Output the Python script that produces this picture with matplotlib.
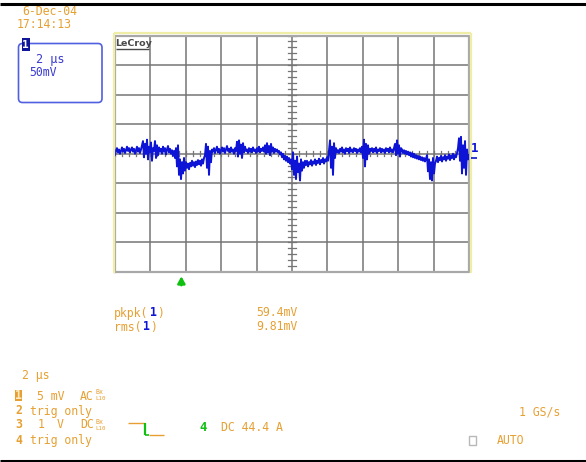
import numpy as np
import matplotlib
matplotlib.use("Agg")
import matplotlib.pyplot as plt
from matplotlib.patches import FancyBboxPatch, Rectangle
from matplotlib.lines import Line2D

# ---------------- data ----------------
date_text = "6-Dec-04"
time_text = "17:14:13"
timebase_label = "2 µs"
zoom_label = "50mV"
meas_names = ["pkpk", "rms"]
meas_values = ["59.4mV", "9.81mV"]
sample_rate = "1 GS/s"
trigger_mode = "AUTO"
trigger_info = "DC 44.4 A"

n_xdiv, n_ydiv = 10, 8
us_per_div = 2.0
mv_per_div = 42.0

# trace (mV)
trace_mv = [
    -2, 5, 8, 2, 6, 0, 4, 9, 3, 7, 1, 5, 10, 4, 8, 2, 6, 9, 3, 7, 0, 5, 10, 3, 8, 1, 6, 12,
    18, -5, 14, 0, 20, -8, 10, 2, 16, -10, 8, 4, 18, -6, 12, -2, 9, 3,
    7, 0, 10, 3, 8, -1, 6, 11, 2, 7, 0, 5, -3, 4,
    -6, 8, -18, 12, -30, -8, -36, -12, -28, -6, -24,
    -12, -20, -14, -22, -13, -18, -10, -17, -12, -19, -11, -16, -9, -15, -10, -17, -8, -14, -6,
    -2, 14, -20, 10, -30, 4, -12, 6,
    3, 8, 1, 6, 10, 2, 7, 0, 5, 9, 3, 8, 1, 6, 11, 4, 7, 2, 9, 3, 6, 0, 8, 4,
    17, -4, 19, 0, 13, -6, 15, 2, 10, 4,
    6, 1, 8, 3, 7, 2, 9, 4, 6, 1, 8, 3, 10, 2, 7, 4, 9, 3,
    12, 0, 15, 2, 11, -2, 14, 3, 9, 1, 7, 3, 6, 2,
    4, -1, 2, -5, 0, -8, -3, -10, -4, -12, -6, -14,
    -8, -22, 2, -30, -10, -36, -4, -26, -14, -38, -8, -24, -12, -20, -10,
    -16, -10, -18, -12, -15, -9, -17, -11, -14, -8, -16, -10, -13, -7, -15, -9, -12, -6, -14, -8, -11, -5, -10,
    4, 19, -20, 10, -30, 15, -6, 8, 2,
    5, 1, 7, 3, 9, 2, 6, 0, 8, 4, 7, 1, 9, 3, 6, 2, 8, 4, 7, 1, 6, 3, 8, 2,
    10, -6, 20, -18, 14, -8, 12, 0, 7,
    4, 8, 2, 7, 3, 9, 1, 6, 4, 8, 2, 7, 3, 6, 1, 8, 4, 7, 2, 9, 3, 6, 2, 8,
    14, -2, 19, 0, 12, -4, 8,
    6, 1, 5, 0, 4, -1, 3, -2, 2, -4, 1, -5, 0, -6, -2, -7, -3, -8, -4, -9, -5, -10, -6, -11, -7,
    -2, -25, -8, -36, -12, -38, -6, -28, -14,
    -10, -4, -12, -6, -9, -3, -11, -5, -8, -2, -10, -4, -7, -1, -9, -3, -6, 0, -8, -2, -5, 1,
    8, 22, -10, 24, -28, 12, -20, 18, -30, 6, -8, -2,
]
trigger_time_us = 3.75

# ---------------- styling ----------------
W, H = 586, 462
ORANGE = "#E6A032"
BLUE = "#0E14D6"
BOXBLUE = "#5060E0"
TXTBLUE = "#3A3AD0"
GREEN = "#10C010"
GRID = "#757575"
EDGE = "#A8A8A8"
YEL = "#EFEDA6"
MONO = "DejaVu Sans Mono"
FS = 8.3

fig = plt.figure(figsize=(W / 100, H / 100), dpi=100)
fig.patch.set_facecolor("white")


def fx(x):
    return x / W


def fy(y):
    return 1 - y / H


def txt(x, y, s, color=ORANGE, size=FS, ha="left", weight="normal", family=MONO):
    fig.text(fx(x), fy(y), s, color=color, fontsize=size, ha=ha, va="center",
             family=family, fontweight=weight)


def fline(xs, ys, color, lw=1.0):
    fig.add_artist(Line2D([fx(v) for v in xs], [fy(v) for v in ys], color=color, lw=lw,
                          transform=fig.transFigure, solid_capstyle="butt"))


# black frame lines
fline([0, W], [3.5, 3.5], "black", 2.2)
fline([0, W], [460.5, 460.5], "black", 2.2)

# ---------------- grid axes ----------------
L, R, T, B = 115, 469, 35.5, 272
ax = fig.add_axes([fx(L), fy(B), (R - L) / W, (B - T) / H])
ax.set_xlim(0, n_xdiv * us_per_div)
ymax = n_ydiv / 2 * mv_per_div
ax.set_ylim(-ymax, ymax)
ax.axis("off")

for k in range(1, n_xdiv):
    ax.axvline(k * us_per_div, color=GRID, lw=1.1, zorder=1)
for k in range(1, n_ydiv):
    ax.axhline(-ymax + k * mv_per_div, color=GRID, lw=1.1, zorder=1)

# centre cross minor ticks
xc = n_xdiv / 2 * us_per_div
for k in range(n_ydiv * 5 + 1):
    yv = -ymax + k * mv_per_div / 5
    ax.plot([xc - 0.2, xc + 0.2], [yv, yv], color=GRID, lw=0.9, zorder=1)
for k in range(n_xdiv * 5 + 1):
    xv = k * us_per_div / 5
    ax.plot([xv, xv], [-mv_per_div * 0.09, mv_per_div * 0.09], color=GRID, lw=0.9, zorder=1)

# border
ax.plot([0, 20, 20, 0, 0], [-ymax, -ymax, ymax, ymax, -ymax], color=EDGE, lw=1.6,
        clip_on=False, zorder=2)

# trace
t = np.linspace(0, n_xdiv * us_per_div, len(trace_mv))
ax.plot(t, trace_mv, color=BLUE, lw=1.4, zorder=5)

# yellow outer lines
fline([114.3, 114.3], [33, 273], YEL, 1.6)
fline([114.3, 470.6], [33, 33], YEL, 1.6)
fline([470.6, 470.6], [33, 273], YEL, 1.6)

# LeCroy logo
fig.text(fx(115.5), fy(44), "LeCroy", color="#484848", fontsize=6.8, fontweight="bold",
         family="DejaVu Sans", va="center", ha="left")
fline([115.5, 149], [49.2, 49.2], "#484848", 1.0)

# trace marker on the right
txt(471, 148, "1", color=BLUE, size=9, weight="bold")
fline([470.5, 477], [158, 158], BLUE, 1.2)

# trigger arrow
trig_x = L + trigger_time_us / (n_xdiv * us_per_div) * (R - L)
fig.add_artist(matplotlib.patches.FancyArrowPatch(
    (fx(trig_x), fy(288)), (fx(trig_x), fy(273.5)), transform=fig.transFigure,
    arrowstyle="-|>,head_width=2.2,head_length=4", color=GREEN, lw=1.8, mutation_scale=1))

# date / time
txt(22, 11.5, date_text)
txt(17, 25, time_text)

# channel box
fig.add_artist(FancyBboxPatch((18.5 / 100, (H - 102.5) / 100), 83.5 / 100, 59 / 100,
                              boxstyle="round,pad=0,rounding_size=0.04",
                              transform=fig.dpi_scale_trans, fc="none", ec=BOXBLUE, lw=1.2))
fig.add_artist(Rectangle((22 / 100, (H - 51) / 100), 7.5 / 100, 13 / 100,
                         transform=fig.dpi_scale_trans, fc="#101898", ec="none"))
txt(25.8, 44.5, "1", color="white", size=8, ha="center", weight="bold")
txt(36, 59, timebase_label, color=TXTBLUE, size=FS + 0.3)
txt(29, 72.5, zoom_label, color=TXTBLUE, size=FS)

# measurements
CW = 7.2
meas_y = [313, 327]
for name, val, yy in zip(meas_names, meas_values, meas_y):
    txt(114, yy, name + "(")
    x1 = 114 + (len(name) + 1) * CW
    txt(x1, yy, "1", color=BLUE, weight="bold")
    txt(x1 + CW, yy, ")")
    txt(256, yy, val)

# bottom status
txt(22, 376, timebase_label)
fig.add_artist(Rectangle((15 / 100, (H - 401) / 100), 6.5 / 100, 11 / 100,
                         transform=fig.dpi_scale_trans, fc=ORANGE, ec="none"))
txt(18.3, 395.5, "1", color="#FCE9C0", size=FS, ha="center", weight="bold")
txt(37, 396, "5 mV")
txt(80, 396, "AC")
txt(95, 392.5, "Bx", size=4.8)
txt(95, 399, "L10", size=4.2)

txt(15, 411, "2", weight="bold")
txt(30, 411, "trig only")

txt(15, 425, "3", weight="bold")
txt(38, 425, "1")
txt(57, 425, "V")
txt(80, 425, "DC")
txt(95, 421.5, "Bx", size=4.8)
txt(95, 428, "L10", size=4.2)

txt(15, 440.5, "4", weight="bold")
txt(30, 440.5, "trig only")

# trigger edge symbol
fline([128, 145.3], [422.5, 422.5], ORANGE, 1.0)
fline([145.3, 145.3], [422.5, 434.5], GREEN, 1.6)
fline([145.3, 148.5], [434.5, 434.5], GREEN, 1.2)
fline([148.5, 163.5], [434.5, 434.5], ORANGE, 1.0)
txt(199.5, 427.5, "4", color=GREEN, weight="bold", size=FS + 0.5)
txt(221, 427.5, trigger_info)

txt(560, 412, sample_rate, ha="right")
fig.add_artist(Rectangle((469 / 100, (H - 445) / 100), 6.5 / 100, 9.5 / 100,
                         transform=fig.dpi_scale_trans, fc="none", ec="#B8B8B8", lw=1.0))
txt(497, 441, trigger_mode)

fig.savefig("out.png", dpi=100, facecolor="white")
